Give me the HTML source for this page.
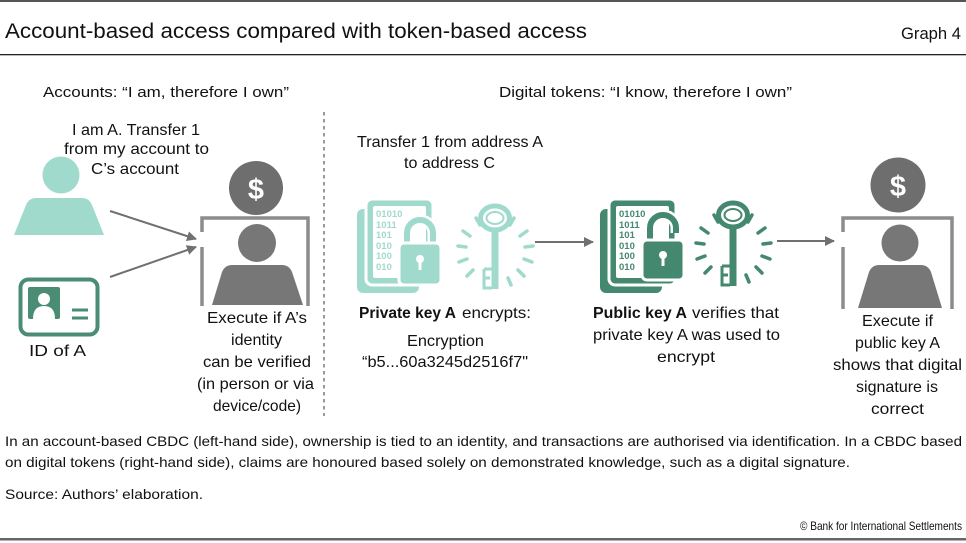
<!DOCTYPE html>
<html>
<head>
<meta charset="utf-8">
<style>
  html,body{margin:0;padding:0;background:#fff;}
  svg{display:block;}
  text{font-family:"Liberation Sans", Arial, sans-serif; fill:#111;}
</style>
</head>
<body>
<svg width="966" height="543" viewBox="0 0 966 543" xmlns="http://www.w3.org/2000/svg">
  <defs>
    <marker id="ah" viewBox="0 0 10 10" refX="9" refY="5" markerWidth="5" markerHeight="5" orient="auto" markerUnits="strokeWidth">
      <path d="M0,0 L10,5 L0,10 Z" fill="#707070"/>
    </marker>
  </defs>

  <!-- frame lines -->
  <rect x="0" y="0" width="966" height="2" fill="#555"/>
  <rect x="0" y="54" width="966" height="1.3" fill="#222"/>
  <rect x="0" y="538" width="966" height="2.5" fill="#666"/>

  <!-- title -->
  <text x="5" y="38" font-size="21" textLength="582" lengthAdjust="spacingAndGlyphs">Account-based access compared with token-based access</text>
  <text x="901" y="39" font-size="17" textLength="60" lengthAdjust="spacingAndGlyphs">Graph 4</text>

  <!-- section headers -->
  <text x="43" y="97" font-size="15" textLength="246" lengthAdjust="spacingAndGlyphs">Accounts: “I am, therefore I own”</text>
  <text x="499" y="97" font-size="15" textLength="293" lengthAdjust="spacingAndGlyphs">Digital tokens: “I know, therefore I own”</text>

  <!-- dashed divider -->
  <line x1="324" y1="112" x2="324" y2="416" stroke="#9a9a9a" stroke-width="2" stroke-dasharray="3.5,3.5"/>

  <!-- LEFT: request text -->
  <text x="72" y="135" font-size="16" textLength="128" lengthAdjust="spacingAndGlyphs">I am A. Transfer 1</text>
  <text x="64" y="154" font-size="16" textLength="145" lengthAdjust="spacingAndGlyphs">from my account to</text>
  <text x="91" y="174" font-size="16" textLength="88" lengthAdjust="spacingAndGlyphs">C’s account</text>

  <!-- teal person -->
  <circle cx="61" cy="175" r="18.5" fill="#a0dacd"/>
  <path d="M14,235 L26,205 Q29,198 36,198 L82,198 Q89,198 92,205 L104,235 Z" fill="#a0dacd"/>

  <!-- ID card -->
  <rect x="20.5" y="279.5" width="77" height="55" rx="8" fill="none" stroke="#4a8d74" stroke-width="4"/>
  <rect x="28" y="287" width="32" height="32" rx="2" fill="#4a8d74"/>
  <circle cx="44" cy="299" r="6" fill="#fff"/>
  <path d="M33,319 Q33,306 44,306 Q55,306 55,319 Z" fill="#fff"/>
  <rect x="72" y="308.5" width="16" height="3" fill="#4a8d74"/>
  <rect x="72" y="316.5" width="16" height="3" fill="#4a8d74"/>
  <text x="29" y="356" font-size="16" textLength="57" lengthAdjust="spacingAndGlyphs">ID of A</text>

  <!-- arrows left -->
  <line x1="110" y1="211" x2="196" y2="239" stroke="#707070" stroke-width="2" marker-end="url(#ah)"/>
  <line x1="110" y1="277" x2="196" y2="247" stroke="#707070" stroke-width="2" marker-end="url(#ah)"/>

  <!-- left gray frame + person + dollar -->
  <circle cx="256" cy="188" r="27" fill="#6e6e6e"/>
  <text x="256" y="199" font-size="29" font-weight="bold" text-anchor="middle" style="fill:#fff">$</text>
  <path d="M202,232 L202,218 L308,218 L308,306" fill="none" stroke="#8c8c8c" stroke-width="3.5"/>
  <path d="M202,247 L202,306" fill="none" stroke="#8c8c8c" stroke-width="3.5"/>
  <circle cx="257" cy="243" r="19" fill="#777"/>
  <path d="M212,305 L222,272 Q225,265 232,265 L282,265 Q289,265 292,272 L303,305 Z" fill="#777"/>

  <text x="207" y="323" font-size="16" textLength="100" lengthAdjust="spacingAndGlyphs">Execute if A’s</text>
  <text x="231" y="345" font-size="16" textLength="51" lengthAdjust="spacingAndGlyphs">identity</text>
  <text x="203" y="367" font-size="16" textLength="108" lengthAdjust="spacingAndGlyphs">can be verified</text>
  <text x="197" y="389" font-size="16" textLength="117" lengthAdjust="spacingAndGlyphs">(in person or via</text>
  <text x="213" y="411" font-size="16" textLength="88" lengthAdjust="spacingAndGlyphs">device/code)</text>

  <!-- RIGHT: transfer text -->
  <text x="357" y="147" font-size="16" textLength="186" lengthAdjust="spacingAndGlyphs">Transfer 1 from address A</text>
  <text x="404" y="168" font-size="16" textLength="91" lengthAdjust="spacingAndGlyphs">to address C</text>

  <!-- light document with closed lock -->
  <g>
    <rect x="357" y="209" width="62" height="84" rx="6" fill="#a0dacd"/>
    <rect x="366" y="199" width="67" height="86" rx="6" fill="#a0dacd" stroke="#fff" stroke-width="3"/>
    <rect x="373" y="206" width="53" height="72" rx="2" fill="#fff"/>
    <g font-family="Liberation Mono, monospace" font-weight="bold" font-size="9.5" style="fill:#a0dacd">
      <text x="376" y="217" style="fill:#a0dacd">01010</text>
      <text x="376" y="228" style="fill:#a0dacd">1011</text>
      <text x="376" y="238" style="fill:#a0dacd">101</text>
      <text x="376" y="249" style="fill:#a0dacd">010</text>
      <text x="376" y="259" style="fill:#a0dacd">100</text>
      <text x="376" y="270" style="fill:#a0dacd">010</text>
    </g>
    <path d="M407,246 V233 A13,13 0 0 1 433,233 V246" fill="none" stroke="#fff" stroke-width="11"/>
    <path d="M407,246 V233 A13,13 0 0 1 433,233 V246" fill="none" stroke="#a0dacd" stroke-width="6"/>
    <rect x="399" y="243" width="42" height="42" rx="5" fill="#a0dacd" stroke="#fff" stroke-width="3"/>
    <circle cx="420" cy="259" r="4" fill="#fff"/>
    <rect x="418.5" y="260" width="3" height="10" fill="#fff"/>
  </g>

  <!-- light key -->
  <g stroke="#a0dacd" fill="none">
    <ellipse cx="495" cy="218" rx="14.5" ry="12" stroke-width="5"/>
    <ellipse cx="495" cy="218" rx="8.5" ry="6" stroke-width="2"/>
    <path d="M484,269 H492 M484,269 V288 H492 M484,278 H490" stroke-width="3"/>
    <g stroke-width="3.5" stroke-linecap="round">
      <line x1="510" y1="225" x2="514" y2="218"/>
      <line x1="520" y1="236" x2="527" y2="231"/>
      <line x1="525" y1="247" x2="533" y2="246"/>
      <line x1="524" y1="259" x2="532" y2="262"/>
      <line x1="518" y1="270" x2="524" y2="276"/>
      <line x1="508" y1="278" x2="511" y2="285"/>
      <line x1="480" y1="225" x2="476" y2="218"/>
      <line x1="470" y1="236" x2="463" y2="231"/>
      <line x1="466" y1="247" x2="458" y2="246"/>
      <line x1="467" y1="259" x2="459" y2="262"/>
      <line x1="473" y1="270" x2="467" y2="276"/>
    </g>
  </g>
  <rect x="491.5" y="230" width="7" height="59" fill="#a0dacd"/>

  <!-- arrow middle -->
  <line x1="535" y1="242" x2="593" y2="242" stroke="#707070" stroke-width="2" marker-end="url(#ah)"/>

  <!-- dark document with open lock -->
  <g transform="translate(243,0)">
    <rect x="357" y="209" width="62" height="84" rx="6" fill="#44896f"/>
    <rect x="366" y="199" width="67" height="86" rx="6" fill="#44896f" stroke="#fff" stroke-width="3"/>
    <rect x="373" y="206" width="53" height="72" rx="2" fill="#fff"/>
    <g font-family="Liberation Mono, monospace" font-weight="bold" font-size="9.5">
      <text x="376" y="217" style="fill:#44896f">01010</text>
      <text x="376" y="228" style="fill:#44896f">1011</text>
      <text x="376" y="238" style="fill:#44896f">101</text>
      <text x="376" y="249" style="fill:#44896f">010</text>
      <text x="376" y="259" style="fill:#44896f">100</text>
      <text x="376" y="270" style="fill:#44896f">010</text>
    </g>
    <path d="M407,246 V228 A13,13 0 0 1 433,228 V233" fill="none" stroke="#fff" stroke-width="11"/>
    <path d="M407,246 V228 A13,13 0 0 1 433,228 V233" fill="none" stroke="#44896f" stroke-width="6"/>
    <rect x="399" y="240" width="42" height="40" rx="5" fill="#44896f" stroke="#fff" stroke-width="3"/>
    <circle cx="420" cy="255" r="4" fill="#fff"/>
    <rect x="418.5" y="256" width="3" height="10" fill="#fff"/>
  </g>

  <!-- dark key -->
  <g stroke="#44896f" fill="none">
    <ellipse cx="733" cy="215" rx="14.5" ry="12" stroke-width="5"/>
    <ellipse cx="733" cy="215" rx="8.5" ry="6" stroke-width="2"/>
    <path d="M722,266 H730 M722,266 V285 H730 M722,275 H728" stroke-width="3"/>
    <g stroke-width="3.5" stroke-linecap="round">
      <line x1="748" y1="222" x2="752" y2="215"/>
      <line x1="758" y1="233" x2="765" y2="228"/>
      <line x1="763" y1="244" x2="771" y2="243"/>
      <line x1="762" y1="256" x2="770" y2="259"/>
      <line x1="756" y1="267" x2="762" y2="273"/>
      <line x1="746" y1="275" x2="749" y2="282"/>
      <line x1="718" y1="222" x2="714" y2="215"/>
      <line x1="708" y1="233" x2="701" y2="228"/>
      <line x1="704" y1="244" x2="696" y2="243"/>
      <line x1="705" y1="256" x2="697" y2="259"/>
      <line x1="711" y1="267" x2="705" y2="273"/>
    </g>
  </g>
  <rect x="729.5" y="227" width="7" height="59" fill="#44896f"/>

  <!-- arrow right -->
  <line x1="777" y1="241" x2="834" y2="241" stroke="#707070" stroke-width="2" marker-end="url(#ah)"/>

  <!-- right gray frame + person + dollar -->
  <circle cx="898" cy="185" r="27.5" fill="#6e6e6e"/>
  <text x="898" y="196" font-size="29" font-weight="bold" text-anchor="middle" style="fill:#fff">$</text>
  <path d="M843,232 L843,218 L952,218 L952,309" fill="none" stroke="#8c8c8c" stroke-width="3.5"/>
  <path d="M843,247 L843,309" fill="none" stroke="#8c8c8c" stroke-width="3.5"/>
  <circle cx="900" cy="243" r="18.5" fill="#777"/>
  <path d="M858,308 L869,272 Q872,265 879,265 L921,265 Q928,265 931,272 L942,308 Z" fill="#777"/>

  <!-- token texts -->
  <text x="359" y="318" font-size="16" font-weight="bold" textLength="97" lengthAdjust="spacingAndGlyphs">Private key A</text>
  <text x="462" y="318" font-size="16" textLength="69" lengthAdjust="spacingAndGlyphs">encrypts:</text>
  <text x="407" y="346" font-size="16" textLength="77" lengthAdjust="spacingAndGlyphs">Encryption</text>
  <text x="362" y="367" font-size="16" textLength="166" lengthAdjust="spacingAndGlyphs">“b5...60a3245d2516f7"</text>

  <text x="593" y="318" font-size="16" font-weight="bold" textLength="94" lengthAdjust="spacingAndGlyphs">Public key A</text>
  <text x="692" y="318" font-size="16" textLength="87" lengthAdjust="spacingAndGlyphs">verifies that</text>
  <text x="593" y="340" font-size="16" textLength="187" lengthAdjust="spacingAndGlyphs">private key A was used to</text>
  <text x="657" y="362" font-size="16" textLength="58" lengthAdjust="spacingAndGlyphs">encrypt</text>

  <text x="862" y="326" font-size="16" textLength="71" lengthAdjust="spacingAndGlyphs">Execute if</text>
  <text x="855" y="348" font-size="16" textLength="85" lengthAdjust="spacingAndGlyphs">public key A</text>
  <text x="833" y="370" font-size="16" textLength="129" lengthAdjust="spacingAndGlyphs">shows that digital</text>
  <text x="856" y="392" font-size="16" textLength="82" lengthAdjust="spacingAndGlyphs">signature is</text>
  <text x="871" y="414" font-size="16" textLength="53" lengthAdjust="spacingAndGlyphs">correct</text>

  <!-- footer -->
  <text x="5" y="446" font-size="14" textLength="957" lengthAdjust="spacingAndGlyphs">In an account-based CBDC (left-hand side), ownership is tied to an identity, and transactions are authorised via identification. In a CBDC based</text>
  <text x="5" y="467" font-size="14" textLength="845" lengthAdjust="spacingAndGlyphs">on digital tokens (right-hand side), claims are honoured based solely on demonstrated knowledge, such as a digital signature.</text>
  <text x="5" y="499" font-size="14" textLength="198" lengthAdjust="spacingAndGlyphs">Source: Authors’ elaboration.</text>
  <text x="800" y="530" font-size="12" textLength="162" lengthAdjust="spacingAndGlyphs">© Bank for International Settlements</text>
</svg>
</body>
</html>
